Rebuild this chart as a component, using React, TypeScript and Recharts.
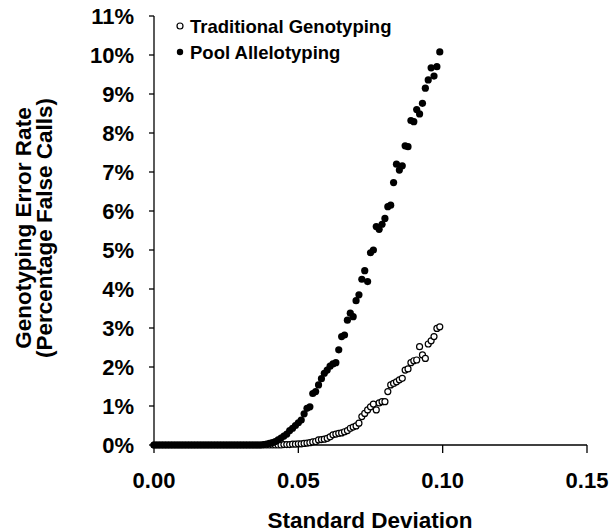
import React from "react";
import { ScatterChart, Scatter, XAxis, YAxis } from "recharts";

// standard deviation of the simulated signal (x)
const SD = [
  0.0, 0.001, 0.002, 0.003, 0.004, 0.005, 0.006, 0.007, 0.008, 0.009,
  0.01, 0.011, 0.012, 0.013, 0.014, 0.015, 0.016, 0.017, 0.018, 0.019,
  0.02, 0.021, 0.022, 0.023, 0.024, 0.025, 0.026, 0.027, 0.028, 0.029,
  0.03, 0.031, 0.032, 0.033, 0.034, 0.035, 0.036, 0.037, 0.038, 0.039,
  0.04, 0.041, 0.042, 0.043, 0.044, 0.045, 0.046, 0.047, 0.048, 0.049,
  0.05, 0.051, 0.052, 0.053, 0.054, 0.055, 0.056, 0.057, 0.058, 0.059,
  0.06, 0.061, 0.062, 0.063, 0.064, 0.065, 0.066, 0.067, 0.068, 0.069,
  0.07, 0.071, 0.072, 0.073, 0.074, 0.075, 0.076, 0.077, 0.078, 0.079,
  0.08, 0.081, 0.082, 0.083, 0.084, 0.085, 0.086, 0.087, 0.088, 0.089,
  0.09, 0.091, 0.092, 0.093, 0.094, 0.095, 0.096, 0.097, 0.098, 0.099,
];

// error rate, % false calls
const TRADITIONAL = [
  0, 0, 0, 0, 0, 0, 0, 0, 0, 0,
  0, 0, 0, 0, 0, 0, 0, 0, 0, 0,
  0, 0, 0, 0, 0, 0, 0, 0, 0, 0,
  0, 0, 0, 0, 0, 0, 0, 0, 0, 0,
  0, 0, 0, 0, 0, 0.01, 0.01, 0.01, 0.02, 0.02,
  0.03, 0.03, 0.04, 0.05, 0.06, 0.08, 0.09, 0.13, 0.14, 0.15,
  0.17, 0.21, 0.26, 0.28, 0.3, 0.31, 0.34, 0.37, 0.43, 0.46,
  0.49, 0.56, 0.73, 0.81, 0.9, 0.98, 1.05, 0.9, 1.08, 1.11,
  1.11, 1.37, 1.54, 1.58, 1.62, 1.67, 1.71, 1.92, 1.95, 2.11,
  2.16, 2.18, 2.52, 2.31, 2.22, 2.59, 2.67, 2.78, 2.99, 3.03,
];

const POOL = [
  0, 0, 0, 0, 0, 0, 0, 0, 0, 0,
  0, 0, 0, 0, 0, 0, 0, 0, 0, 0,
  0, 0, 0, 0, 0, 0, 0, 0, 0, 0,
  0, 0, 0, 0, 0, 0, 0, 0, 0.01, 0.02,
  0.04, 0.06, 0.09, 0.13, 0.18, 0.23, 0.28, 0.37, 0.43, 0.5,
  0.57, 0.64, 0.8, 0.94, 0.98, 1.32, 1.37, 1.54, 1.7, 1.84,
  1.92, 2.02, 2.08, 2.11, 2.44, 2.78, 2.82, 3.2, 3.38, 3.29,
  3.7, 3.85, 4.25, 4.47, 4.19, 4.93, 5.0, 5.6, 5.53, 5.66,
  5.81, 6.11, 6.15, 6.73, 7.2, 7.05, 7.16, 7.67, 7.65, 8.32,
  8.29, 8.6, 8.49, 8.76, 9.15, 9.36, 9.67, 9.46, 9.7, 10.08,
];

const X_TICKS = [0, 0.05, 0.1, 0.15];
const Y_TICKS = [0, 1, 2, 3, 4, 5, 6, 7, 8, 9, 10, 11];

const FONT = '"Liberation Sans", Arial, Helvetica, sans-serif';

const traditionalData = SD.map((sd, i) => ({ sd, rate: TRADITIONAL[i] }));
const poolData = SD.map((sd, i) => ({ sd, rate: POOL[i] }));

const OpenDot = (props: any) => (
  <circle cx={props.cx} cy={props.cy} r={3} fill="#fff" stroke="#000" strokeWidth={1.2} />
);

const FilledDot = (props: any) => (
  <circle cx={props.cx} cy={props.cy} r={3.6} fill="#000" />
);

// y title (two lines) + legend, drawn in svg coords
const YTitle = () => (
  <g fontFamily={FONT} fontWeight="bold" fill="#000">
    <g fontSize={22.5}>
      <text transform="translate(23,228) rotate(-90)" textAnchor="middle" dominantBaseline="central">
        Genotyping Error Rate
      </text>
      <text transform="translate(44,228) rotate(-90)" textAnchor="middle" dominantBaseline="central">
        (Percentage False Calls)
      </text>
    </g>
    <g fontSize={18.5}>
      <circle cx={180} cy={26} r={3} fill="#fff" stroke="#000" strokeWidth={1.2} />
      <text x={190} y={26} dominantBaseline="central">Traditional Genotyping</text>
      <circle cx={180} cy={52} r={3.2} fill="#000" />
      <text x={190} y={52} dominantBaseline="central">Pool Allelotyping</text>
    </g>
  </g>
);

const XTitle = () => (
  <text x={370} y={528} textAnchor="middle" fontFamily={FONT} fontWeight="bold" fontSize={22.5} fill="#000">
    Standard Deviation
  </text>
);

export default function App() {
  return (
    <div style={{ position: "absolute", left: 0, top: 0, background: "#fff" }}>
      <ScatterChart
        width={611}
        height={532}
        margin={{ top: 16, right: 24, bottom: 0, left: 0 }}
      >
        <XAxis
          type="number"
          dataKey="sd"
          domain={[0, 0.15]}
          ticks={X_TICKS}
          interval={0}
          tickFormatter={(v: number) => v.toFixed(2)}
          tickSize={8}
          tickMargin={19}
          height={87}
          axisLine={{ stroke: "#000", strokeWidth: 1.3 }}
          tickLine={{ stroke: "#000", strokeWidth: 1.3 }}
          tick={{ fill: "#000", fontSize: 22, fontWeight: "bold", fontFamily: FONT }}
          label={<XTitle />}
        />
        <YAxis
          type="number"
          dataKey="rate"
          domain={[0, 11]}
          ticks={Y_TICKS}
          interval={0}
          tickFormatter={(v: number) => `${v}%`}
          width={154}
          tickSize={5}
          tickMargin={15}
          axisLine={{ stroke: "#000", strokeWidth: 1.3 }}
          tickLine={{ stroke: "#000", strokeWidth: 1.3 }}
          tick={{ fill: "#000", fontSize: 22, fontWeight: "bold", fontFamily: FONT }}
          label={<YTitle />}
        />
        <Scatter
          name="Traditional Genotyping"
          data={traditionalData}
          shape={OpenDot}
          isAnimationActive={false}
        />
        <Scatter
          name="Pool Allelotyping"
          data={poolData}
          shape={FilledDot}
          isAnimationActive={false}
        />
      </ScatterChart>
    </div>
  );
}
